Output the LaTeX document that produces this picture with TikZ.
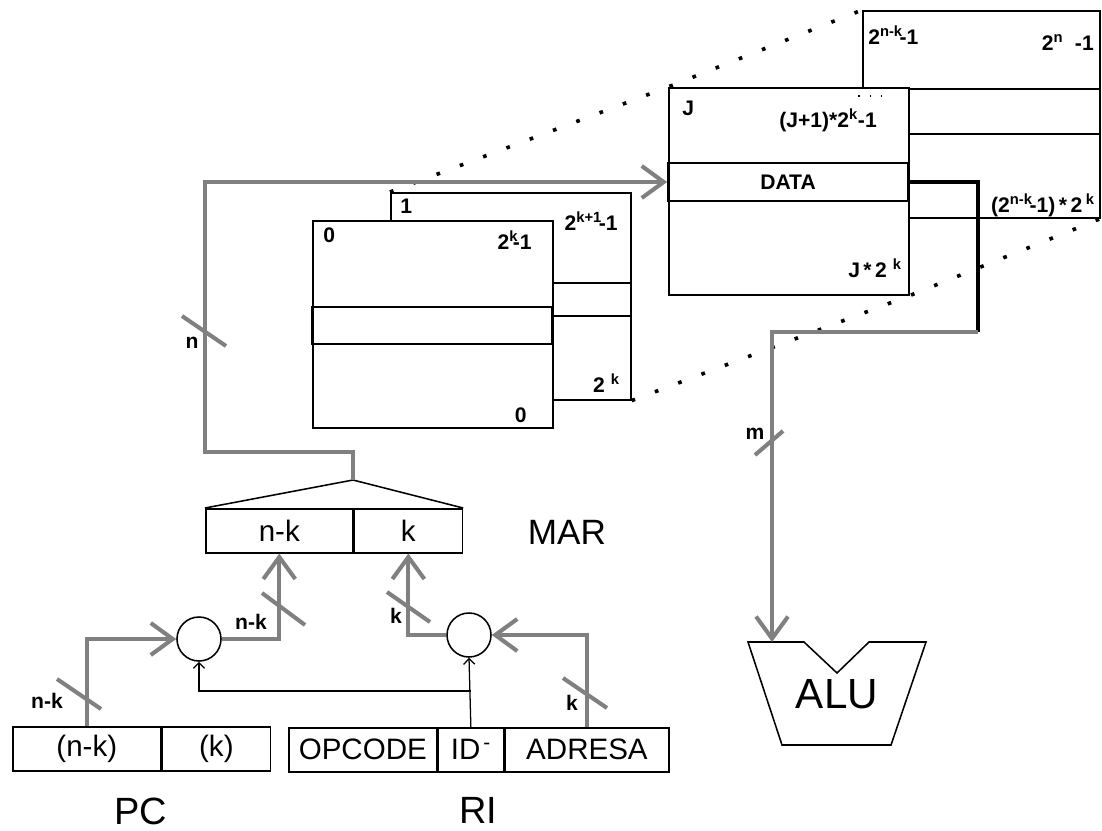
\documentclass[tikz,border=0pt]{standalone}
\usepackage{fontspec}
\setmainfont{Liberation Sans}
\usetikzlibrary{arrows.meta}
\usetikzlibrary{positioning}

\definecolor{busgray}{RGB}{128,128,128}
\tikzset{
  bus/.style={draw=busgray, line width=2.9pt},
  busarrow/.style={-{Straight Barb[length=0.55cm,width=0.8cm]}},
  tick/.style={draw=busgray, line width=2.9pt},
  sig/.style={draw, line width=0.9pt, -{Straight Barb[length=4pt,width=8pt]}},
  cell/.style={draw, line width=1.1pt, minimum height=1.1cm, inner sep=0pt, font=\fontsize{21}{24}\selectfont},
  memblk/.style={draw, fill=white, line width=1.1pt, minimum width=6cm, minimum height=5.175cm, anchor=north west, inner sep=0pt},
  lbl/.style={font=\bfseries\fontsize{15}{18}\selectfont, inner sep=0pt},
  big/.style={inner sep=0pt, font=\fontsize{27}{32}\selectfont},
  dots/.style={line width=2.6pt, dash pattern=on 2.6pt off 15.1pt},
}

\begin{document}
\begin{tikzpicture}[x=0.025cm,y=-0.025cm]
\useasboundingbox (0,0) rectangle (1102,830);

% memory blocks, back to front
\node[memblk, minimum width=5.925cm] (bkN) at (862,10) {};
\draw[line width=1.1pt] (862,89) -- (1099,89);
\draw[line width=1.1pt] (862,134) -- (1099,134);
\node[memblk] (jblk) at (668,87) {};
\node[draw, line width=1.1pt, minimum width=6cm, minimum height=0.95cm, inner sep=0pt, font=\bfseries\fontsize{15}{18}\selectfont] (data) at (788,182) {DATA};
\draw[line width=1pt, dash pattern=on 1.2pt off 7pt] (858,96) -- (882,96);

\node[memblk] (blk1) at (390,192) {};
\draw[line width=1.1pt] (390,283) -- (630,283);
\draw[line width=1.1pt] (390,316) -- (630,316);
\node[memblk] (blk0) at (312,220) {};
\node[draw, line width=1.1pt, minimum width=6cm, minimum height=0.925cm, inner sep=0pt] (row0) at (432,325.5) {};

\node[lbl, anchor=base west] at (868,44) {2\textsuperscript{n-k}\kern-0.15em-1};
\node[lbl, anchor=base east] at (1094,50) {2\textsuperscript{n}\ \ -1};
\node[lbl, anchor=base east] at (1095,212) {(2\textsuperscript{n-k}\kern-0.15em-1)\,*\,2\,\textsuperscript{k}};
\node[lbl, anchor=base west] at (682,115) {J};
\node[lbl, anchor=base east] at (877,127) {(J+1)*2\textsuperscript{k}-1};
\node[lbl, anchor=base east] at (902,277) {J\,*\,2\ \textsuperscript{k}};
\node[lbl, anchor=base west] at (400,213) {1};
\node[lbl, anchor=base east] at (618,230) {2\textsuperscript{k+1}\kern-0.15em-1};
\node[lbl, anchor=base east] at (620,392) {2\ \textsuperscript{k}};
\node[lbl, anchor=base west] at (323,242) {0};
\node[lbl, anchor=base east] at (532,249) {2\textsuperscript{k}\kern-0.25em-1};
\node[lbl, anchor=base east] at (527,422) {0};

\draw[dots] (blk1.north west) -- (jblk.north west) -- (bkN.north west);
\draw[dots] (blk1.south east) -- (jblk.south east) -- (bkN.south east);

% registers
\node[cell, minimum width=3.675cm, anchor=north west] (marH) at (205,508) {n-k};
\node[cell, minimum width=2.7cm, anchor=west] (marL) at (marH.east) {k};
\coordinate (marTop) at (353,480);
\draw[line width=1.1pt] (marH.north west) -- (marTop) -- (marL.north east);
\node[big, font=\fontsize{25}{30}\selectfont] (marLbl) at (567,532) {MAR};

\node[cell, minimum width=3.7cm, anchor=north west] (pcH) at (12,726) {(n-k)};
\node[cell, minimum width=2.7cm, anchor=west] (pcL) at (pcH.east) {(k)};
\node[big] (pcLbl) at (141,811) {PC};

\node[cell, minimum width=3.7cm, anchor=north west] (riO) at (288,727) {OPCODE};
\node[cell, minimum width=1.625cm, anchor=west] (riI) at (riO.east) {ID\kern2pt\textsuperscript{-}};
\node[cell, minimum width=4.1cm, anchor=west] (riA) at (riI.east) {ADRESA};
\node[big] (riLbl) at (478,810) {RI};

\node[circle, draw, line width=1.1pt, minimum size=1.1cm, inner sep=0pt] (add1) at (199,639) {};
\node[circle, draw, line width=1.1pt, minimum size=1.1cm, inner sep=0pt] (add2) at (469,635) {};

% ALU
\draw[line width=1.1pt] (748,642) -- (804,642) -- (837,673) -- (869,642) -- (926,642) -- (891,745) -- (782,745) -- cycle;
\node[font=\fontsize{30}{36}\selectfont] (alu) at (837,694) {ALU};
\coordinate (aluIn) at (772,642);
\coordinate (turn) at (978,332);

% buses
\draw[bus, busarrow] (marTop) |- (205,452) |- (data.west);
\draw[line width=3pt] (data.east) -| (turn);
\draw[bus, busarrow] (turn) -| (aluIn);
\draw[bus, busarrow] (pcH.north) |- (add1.west);
\draw[bus, busarrow] (add1.east) -| (marH.south);
\draw[bus, busarrow] (add2.west) -| (marL.south);
\draw[bus, busarrow] (riA.north) |- (add2.east);

\draw[sig] (riI.north) -- (add2.south);
\coordinate (br) at (riI.north |- 0,691);
\draw[sig] (br) -| (add1.south);

% bus widths
\draw[tick] (182,316) -- (226,346);
\node[lbl, anchor=base] at (192,348) {n};
\draw[tick] (755,455) -- (783,431);
\node[lbl, anchor=base] at (755,439) {m};
\draw[tick] (57,679) -- (101,709);
\node[lbl, anchor=base] at (47,708) {n-k};
\draw[tick] (262,593) -- (305,625);
\node[lbl, anchor=base] at (251,629) {n-k};
\draw[tick] (387,592) -- (430,622);
\node[lbl, anchor=base] at (396,623) {k};
\draw[tick] (563,678) -- (607,708);
\node[lbl, anchor=base] at (572,710) {k};

\end{tikzpicture}
\end{document}
